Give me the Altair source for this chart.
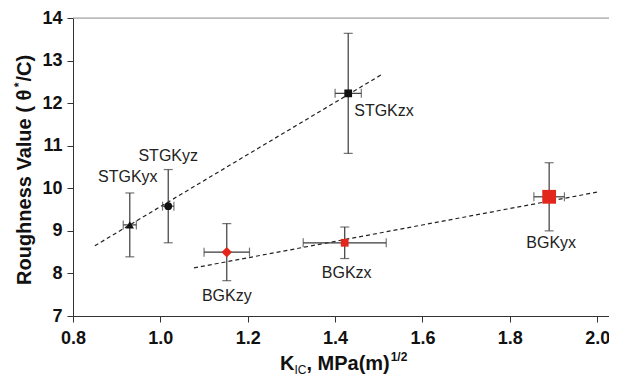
import altair as alt
import pandas as pd

# ---------------- data ----------------
names = ["STGKyx", "STGKyz", "STGKzx", "BGKzy", "BGKzx", "BGKyx"]
kic = [0.93, 1.018, 1.43, 1.152, 1.422, 1.89]
rough = [9.14, 9.58, 12.23, 8.50, 8.72, 9.80]
kic_err = [0.015, 0.013, 0.03, 0.052, 0.095, 0.035]
rough_err = [0.75, 0.86, 1.41, 0.67, 0.37, 0.80]

stgk_fit_x = [0.85, 1.508]
stgk_fit_y = [8.65, 12.68]
bgk_fit_x = [1.077, 2.0]
bgk_fit_y = [8.13, 9.91]

x_ticks = [0.8, 1.0, 1.2, 1.4, 1.6, 1.8, 2.0]
y_ticks = [7, 8, 9, 10, 11, 12, 13, 14]

# ---------------- styles ----------------
FONT = "Liberation Sans"
RED = "#e3261b"
style = {
    "STGKyx": dict(shape="triangle-up", color="#111111", size=70, dx=-2, dy=-48, align="center"),
    "STGKyz": dict(shape="circle", color="#111111", size=60, dx=0, dy=-50, align="center"),
    "STGKzx": dict(shape="square", color="#111111", size=60, dx=6, dy=18, align="left"),
    "BGKzy": dict(shape="diamond", color=RED, size=110, dx=0, dy=44, align="center"),
    "BGKzx": dict(shape="square", color=RED, size=60, dx=2, dy=30, align="center"),
    "BGKyx": dict(shape="square", color=RED, size=190, dx=2, dy=46, align="center"),
}

W, H = 536, 298
x_scale = alt.Scale(domain=[0.8, 2.027], nice=False, zero=False)
y_scale = alt.Scale(domain=[7, 14], nice=False, zero=False)
x_axis = alt.Axis(values=x_ticks, format=".1f", title=None, grid=False,
                  labelFont=FONT, labelFontSize=18, labelFontWeight="bold",
                  labelColor="#111111", labelPadding=7, tickSize=6,
                  domainColor="#333333", tickColor="#333333", labelFlush=False)
y_axis = alt.Axis(values=y_ticks, format="d", title=None, grid=False,
                  labelFont=FONT, labelFontSize=18, labelFontWeight="bold",
                  labelColor="#111111", labelPadding=5, tickSize=6,
                  domainColor="#333333", tickColor="#333333")

df = pd.DataFrame({"name": names, "x": kic, "y": rough})
df["xlo"] = [a - e for a, e in zip(kic, kic_err)]
df["xhi"] = [a + e for a, e in zip(kic, kic_err)]
df["ylo"] = [a - e for a, e in zip(rough, rough_err)]
df["yhi"] = [a + e for a, e in zip(rough, rough_err)]


def X(field):
    return alt.X(field, type="quantitative", scale=x_scale, axis=x_axis)


def Y(field):
    return alt.Y(field, type="quantitative", scale=y_scale, axis=y_axis)


base = alt.Chart(df)
EB = "#3a3a3a"

layers = []
# top frame line
layers.append(alt.Chart(pd.DataFrame({"a": [0]})).mark_rule(color="#9a9a9a", strokeWidth=1).encode(
    x=alt.value(0), x2=alt.value(W), y=alt.value(0)))

# fitted dashed lines
for fx, fy in [(stgk_fit_x, stgk_fit_y), (bgk_fit_x, bgk_fit_y)]:
    layers.append(alt.Chart(pd.DataFrame({"x": fx, "y": fy})).mark_line(
        color="#222222", strokeWidth=1.2, strokeDash=[4, 3]).encode(x=X("x"), y=Y("y")))

# error bars
layers.append(base.mark_rule(color=EB, strokeWidth=1.2).encode(x=X("x"), y=Y("ylo"), y2="yhi"))
layers.append(base.mark_rule(color=EB, strokeWidth=1.2).encode(x=X("xlo"), x2="xhi", y=Y("y")))
for f in ["ylo", "yhi"]:
    layers.append(base.mark_tick(color=EB, orient="horizontal", size=9, thickness=1.2).encode(
        x=X("x"), y=Y(f)))
for f in ["xlo", "xhi"]:
    layers.append(base.mark_tick(color=EB, orient="vertical", size=9, thickness=1.2).encode(
        x=X(f), y=Y("y")))

# markers and labels
for n in names:
    s = style[n]
    sub = base.transform_filter(alt.datum.name == n)
    layers.append(sub.mark_point(shape=s["shape"], size=s["size"], filled=True, opacity=1,
                                 color=s["color"]).encode(x=X("x"), y=Y("y")))
    layers.append(sub.mark_text(font=FONT, fontSize=16, color="#222222", align=s["align"],
                                baseline="middle", dx=s["dx"], dy=s["dy"]).encode(
        x=X("x"), y=Y("y"), text="name:N"))


def txt(s, x, y, size, weight="bold", angle=0, align="left"):
    return alt.Chart(pd.DataFrame({"t": [s]})).mark_text(
        font=FONT, fontSize=size, fontWeight=weight, color="#111111", align=align,
        baseline="alphabetic", angle=angle).encode(
        x=alt.value(x), y=alt.value(y), text="t:N")


# x-axis title: K_IC, MPa(m)^1/2
xb = 352
x0 = 207
layers.append(txt("K", x0, xb, 20))
layers.append(txt("IC", x0 + 14.4, xb + 4, 12, weight="normal"))
layers.append(txt(", MPa(m)", x0 + 26.4, xb, 20))
layers.append(txt("1/2", x0 + 110.7, xb - 9, 12))

# y-axis title: Roughness Value ( θ*/C)
yx = -42
y_start = 267
w1 = 197.8
layers.append(txt("Roughness Value ( θ", yx, y_start, 20, angle=270))
layers.append(txt("*", yx - 8, y_start - w1, 12, angle=270))
layers.append(txt("/C)", yx, y_start - w1 - 5.7, 20, angle=270))

chart = alt.layer(*layers).properties(
    width=W, height=H,
    autosize=alt.AutoSizeParams(type="none"),
    padding={"left": 65, "top": 10, "right": 0, "bottom": 61},
).configure_view(stroke=None).configure(background="white")

chart.save("out.html", embed_options={"renderer": "svg", "actions": False})
